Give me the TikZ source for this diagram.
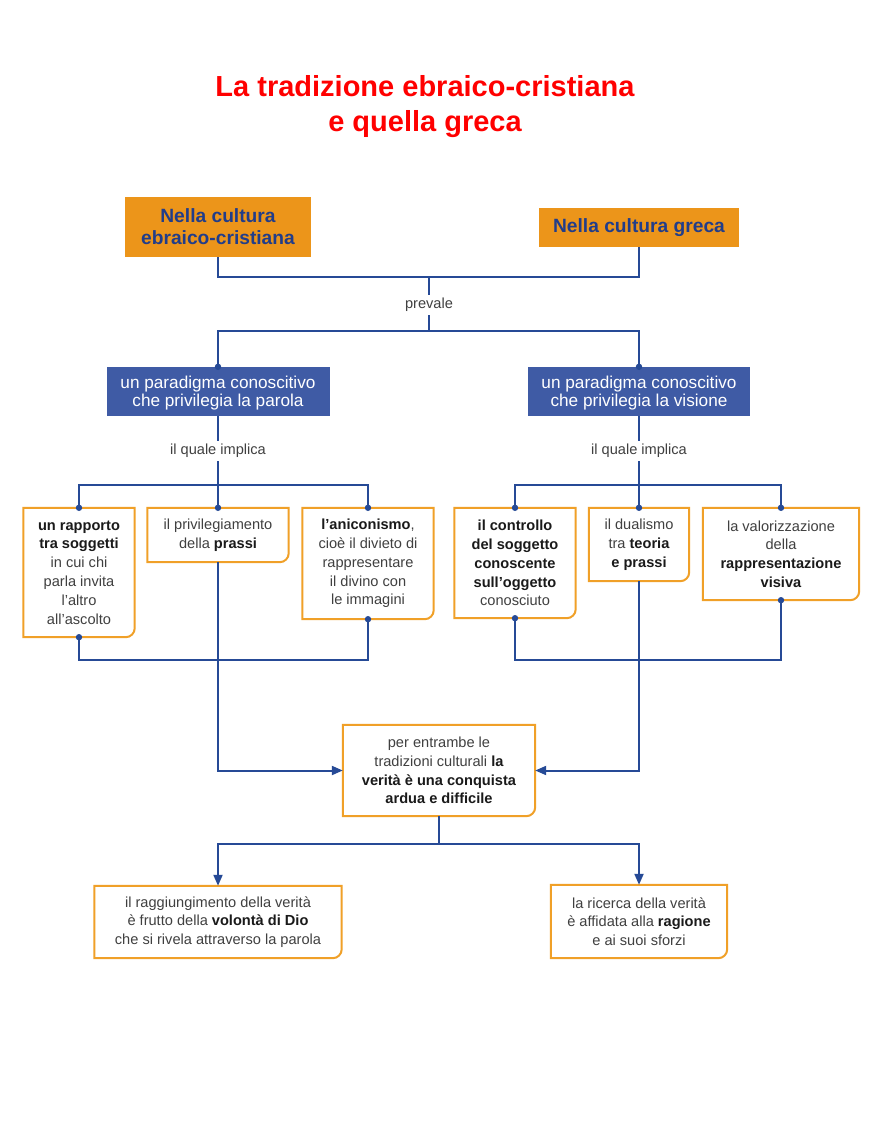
\documentclass[tikz,border=0pt]{standalone}
\usepackage{fontspec}
\setmainfont{Liberation Sans}
\usetikzlibrary{arrows.meta}
\definecolor{myorange}{RGB}{236,149,26}
\definecolor{myborder}{RGB}{240,160,40}
\definecolor{myblue}{RGB}{63,91,165}
\definecolor{myline}{RGB}{38,74,150}
\definecolor{mytitle}{RGB}{33,61,138}
\definecolor{mytext}{RGB}{64,64,64}
\definecolor{mybold}{RGB}{26,26,26}
\tikzset{%
    head/.style={%
        fill=myorange, align=center, inner sep=0pt, text=mytitle,
        font=\fontsize{19.2}{22}\selectfont\bfseries
    }
}
\tikzset{%
    para/.style={%
        fill=myblue, align=center, inner sep=0pt, text=white,
        font=\fontsize{17.2}{18}\selectfont
    }
}
\tikzstyle{obox}=[align=center, inner sep=0pt, text=mytext,
    font=\fontsize{14.6}{18.8}\selectfont]
\tikzstyle{olin}=[draw=myborder, line width=2pt]
\tikzstyle{conn}=[draw=myline, line width=2pt]
\tikzstyle{arr}=[conn, -{Triangle[length=11pt,width=9pt]}]
\tikzstyle{lab}=[inner sep=3pt, text=mytext, font=\fontsize{14.6}{17}\selectfont]
\newcommand{\bb}[1]{\textcolor{mybold}{\textbf{#1}}}

\begin{document}
\begin{tikzpicture}[x=1pt,y=1pt]
  \useasboundingbox (0,0) rectangle (881,-1147);
  \fill[white] (0,0) rectangle (881,-1147);

  % title
  \node[text=red, align=center, font=\fontsize{29}{35}\selectfont\bfseries] (title) at (425,-107)
    {La tradizione ebraico-cristiana\\e quella greca};

  % the two cultures
  \node[head, minimum width=186, minimum height=60] (ebr) at (218,-227) {Nella cultura\\ebraico-cristiana};
  \node[head, minimum width=200, minimum height=39] (gre) at (639,-227.5) {Nella cultura greca};

  \coordinate (top) at (429,-277);
  \node[lab] (prev) at (429,-305) {prevale};
  \coordinate (mid) at (429,-331);

  % paradigms
  \node[para, minimum width=223, minimum height=49, text depth=0pt] (parola) at (218,-391.5) {un paradigma conoscitivo\\che privilegia la parola};
  \node[para, minimum width=222, minimum height=49, text depth=0pt] (visione) at (639,-391.5) {un paradigma conoscitivo\\che privilegia la visione};

  \node[lab] (imp1) at (218,-451) {il quale implica};
  \node[lab] (imp2) at (639,-451) {il quale implica};
  \coordinate (jl) at (218,-485);
  \coordinate (jr) at (639,-485);
  \coordinate (bl) at (218,-660);
  \coordinate (br) at (639,-660);

  % left implications
  \node[obox, minimum width=111, minimum height=129] (rapp) at (79,-572.5)
    {\bb{un rapporto}\\\bb{tra soggetti}\\in cui chi\\parla invita\\l'altro\\all'ascolto};
  \node[obox, minimum width=141, minimum height=54] (prax) at (218,-535)
    {il privilegiamento\\della \bb{prassi}};
  \node[obox, minimum width=131, minimum height=111] (anic) at (368,-563.5)
    {\bb{l'aniconismo},\\cioè il divieto di\\rappresentare\\il divino con\\le immagini};

  % right implications
  \node[obox, minimum width=121, minimum height=110] (contr) at (515,-563)
    {\bb{il controllo}\\\bb{del soggetto}\\\bb{conoscente}\\\bb{sull'oggetto}\\conosciuto};
  \node[obox, minimum width=100, minimum height=73] (dual) at (639,-544.5)
    {il dualismo\\tra \bb{teoria}\\\bb{e prassi}};
  \node[obox, minimum width=156, minimum height=92] (valo) at (781,-554)
    {la valorizzazione\\della\\\bb{rappresentazione}\\\bb{visiva}};

  % common result
  \node[obox, minimum width=192, minimum height=91] (ver) at (439,-770.5)
    {per entrambe le\\tradizioni culturali \bb{la}\\\bb{verità è una conquista}\\\bb{ardua e difficile}};
  \coordinate (jb) at (439,-844);

  \node[obox, minimum width=247, minimum height=72] (dio) at (218,-922)
    {il raggiungimento della verità\\è frutto della \bb{volontà di Dio}\\che si rivela attraverso la parola};
  \node[obox, minimum width=176, minimum height=73] (rag) at (639,-921.5)
    {la ricerca della verità\\è affidata alla \bb{ragione}\\e ai suoi sforzi};

  % orange frames, rounded at the bottom right
  \foreach \n in {rapp,prax,anic,contr,dual,valo,ver,dio,rag}
    \draw[olin] (\n.north west) -- (\n.south west) -- ([xshift=-9pt]\n.south east)
      arc[start angle=270, end angle=360, radius=9pt] -- (\n.north east) -- cycle;

  % connectors
  \draw[conn] (ebr.south) |- (top) -| (gre.south);
  \draw[conn] (top) -- (prev.north);
  \draw[conn] (prev.south) -- (mid);
  \draw[conn] (parola.north) |- (mid) -| (visione.north);

  \draw[conn] (parola.south) -- (imp1.north);
  \draw[conn] (imp1.south) -- (prax.north);
  \draw[conn] (rapp.north) |- (jl) -| (anic.north);
  \draw[conn] (rapp.south) |- (bl) -| (anic.south);
  \draw[arr] (prax.south) |- (ver.west);

  \draw[conn] (visione.south) -- (imp2.north);
  \draw[conn] (imp2.south) -- (dual.north);
  \draw[conn] (contr.north) |- (jr) -| (valo.north);
  \draw[conn] (contr.south) |- (br) -| (valo.south);
  \draw[arr] (dual.south) |- (ver.east);

  \draw[conn] (ver.south) -- (jb);
  \draw[arr] (jb) -| (dio.north);
  \draw[arr] (jb) -| (rag.north);

  % dots
  \foreach \p in {parola.north,visione.north,rapp.north,prax.north,anic.north,rapp.south,anic.south,
                  contr.north,dual.north,valo.north,contr.south,valo.south}
    \fill[myline] (\p) circle (3.2);
\end{tikzpicture}
\end{document}
